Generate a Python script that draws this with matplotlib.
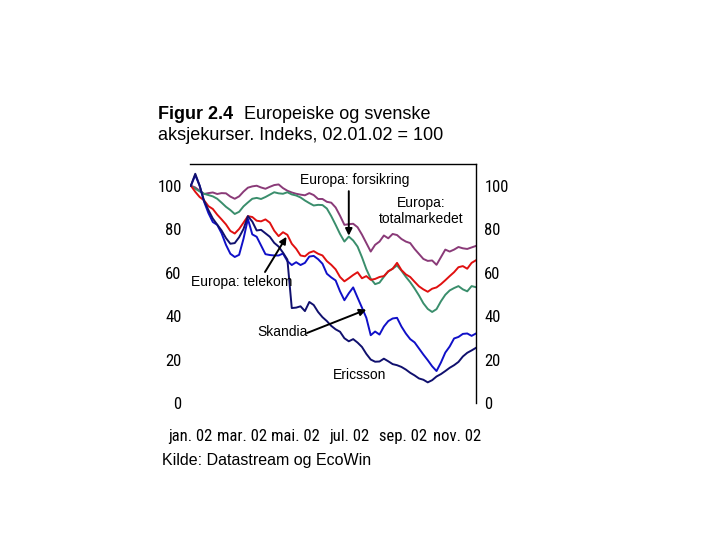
import matplotlib
matplotlib.use("Agg")
import matplotlib.pyplot as plt
from matplotlib import font_manager
import pandas as pd

# ---------------- data (readings every 5 days, index 02.01.02 = 100) ----------------
dates = pd.date_range("2002-01-02", periods=66, freq="5D")

totalmarkedet = [100, 99.2, 97.7, 96.2, 96.6, 96.9, 96.2, 96.6, 96.5, 95, 94, 95.1, 97.3, 99.1,
                 99.7, 100, 99.2, 98.6, 99.5, 100.3, 100.6, 98.9, 97.7, 96.9, 96.3, 95.9, 95.6,
                 96.6, 95.7, 93.9, 93.9, 92.6, 92.2, 90, 86.2, 82, 82.3, 82.5, 80.9, 77.5, 73.6,
                 69.7, 72.8, 74.3, 77.1, 75.8, 77.8, 77.3, 75.5, 74.3, 73.6, 70.9, 68.6, 66.3,
                 65.4, 65.6, 63.6, 67.1, 70.6, 69.7, 70.6, 71.8, 71.2, 70.9, 71.6, 72.3]
forsikring = [100, 98.6, 97.4, 96.3, 95.7, 95.1, 94, 92.2, 90.3, 88.8, 87, 88, 90.5, 92.3,
              94, 94.4, 93.9, 94.8, 95.9, 97, 96.5, 96.3, 97, 96, 95.5, 94.6, 93.2, 92, 90.9,
              91.2, 91.1, 89.5, 86, 82, 77.8, 74.3, 76.6, 74.8, 72, 67.1, 61.6, 57.2, 54.7,
              55.4, 58.1, 60.6, 61.8, 63.3, 60.9, 58.1, 55.6, 52.7, 49.5, 45.9, 43.3, 41.9,
              43.2, 46.8, 49.8, 51.8, 52.9, 53.8, 52.3, 51.4, 53.8, 53.3]
telekom = [100, 97.2, 94.8, 93.3, 90.6, 89.3, 86.7, 84.5, 82.2, 79.2, 78, 80.1, 83, 86,
           85.6, 83.9, 83.6, 84.5, 83, 79.3, 76.8, 78.6, 77.4, 73.3, 71, 67.9, 67.5, 69.2,
           69.9, 68.7, 67.9, 65.3, 63.6, 61.5, 58, 56, 57.4, 58.9, 60.2, 57.4, 58.4, 56.7,
           57.1, 58, 58.4, 60.6, 61.8, 64.5, 61.2, 59.2, 58, 55.8, 53.7, 52.3, 51.2, 52.6,
           53.2, 54.7, 56.5, 58.4, 60.2, 62.5, 63, 61.8, 64.5, 65.7]
skandia = [100, 104.9, 100, 92.7, 87.4, 83.3, 82, 78.1, 72.8, 68.7, 67.2, 68.2, 75.6, 84.7,
           77.6, 76.5, 72.5, 68.5, 68.1, 67.9, 67.9, 68.8, 65.3, 63.5, 64.8, 63.5, 64.5,
           67.4, 67.7, 66.2, 64.1, 59.5, 57.8, 56.4, 51.4, 47.3, 50.5, 53.2, 48.5, 43.9,
           39.2, 31.2, 32.9, 31.5, 35.2, 37.7, 38.9, 39.2, 35.2, 32, 29.4, 27.9, 25.1, 22.3,
           19.7, 16.9, 14.7, 18.6, 23.2, 26, 29.7, 30.4, 31.8, 32, 30.9, 32]
ericsson = [100, 105.5, 100, 93.1, 88.8, 84.9, 82.1, 79.4, 75.9, 73.3, 73.6, 76.3, 80.1, 86,
            83.5, 79.4, 79.7, 78.1, 76.5, 73.7, 72, 69.2, 66, 43.7, 43.9, 44.5, 42.3, 46.5,
            45.1, 41.9, 39.5, 37.7, 35.5, 33.9, 32.8, 29.8, 28.4, 29.4, 27.8, 25.8, 22.6, 20,
            19, 19.1, 20.4, 19.2, 17.9, 17.4, 16.6, 15.4, 13.9, 12.7, 11.3, 10.7, 9.5, 10.5,
            12.2, 13.3, 14.7, 16.2, 17.4, 18.9, 21.4, 23.1, 24.2, 25.4]

month_ticks = ["2002-01-01", "2002-03-01", "2002-05-01", "2002-07-01", "2002-09-01", "2002-11-01"]
month_labels = ["jan. 02", "mar. 02", "mai. 02", "jul. 02", "sep. 02", "nov. 02"]
minor_month_ticks = ["2002-03-01", "2002-07-01"]
y_ticks = [0, 20, 40, 60, 80, 100]
y_minor_ticks = [20, 60]

# ---------------- fonts ----------------
def find(fam, stretch="normal"):
    try:
        return font_manager.findfont(font_manager.FontProperties(family=fam, stretch=stretch),
                                     fallback_to_default=False)
    except Exception:
        return None

main_font = "Liberation Sans" if find("Liberation Sans") else "DejaVu Sans"
narrow_font, narrow_stretch, tick_fs = main_font, "normal", 10.5
for fam in ["Liberation Sans Narrow", "Arial Narrow", "Roboto Condensed", "Open Sans Condensed"]:
    if find(fam):
        narrow_font, tick_fs = fam, 12
        break
else:
    p = find("DejaVu Sans", "condensed")
    if p and "Condensed" in p:
        narrow_font, narrow_stretch, tick_fs = "DejaVu Sans", "condensed", 11.5

plt.rcParams["font.family"] = [main_font, "DejaVu Sans"]

W, H = 720, 540
fig = plt.figure(figsize=(7.2, 5.4), dpi=100)
fig.patch.set_facecolor("white")

ax = fig.add_axes([190 / W, (H - 403) / H, 286 / W, 239 / H])
ax.set_facecolor("white")

lw = 1.4
ax.plot(dates, totalmarkedet, color="#8a3a78", lw=lw)
ax.plot(dates, forsikring, color="#3a8e6c", lw=lw)
ax.plot(dates, telekom, color="#e01010", lw=lw)
ax.plot(dates, skandia, color="#1010c8", lw=lw)
ax.plot(dates, ericsson, color="#10106e", lw=lw)

ax.set_xlim(pd.Timestamp("2002-01-01"), pd.Timestamp("2002-11-23"))
ax.set_ylim(0, 110)

for s in ["left", "bottom"]:
    ax.spines[s].set_visible(False)
for s in ["top", "right"]:
    ax.spines[s].set_color("black")
    ax.spines[s].set_linewidth(1.0)

ax.set_yticks(y_ticks)
ax.set_yticklabels([str(v) for v in y_ticks])
ax.set_yticks(y_minor_ticks, minor=True)
ax.tick_params(axis="y", which="major", length=0, left=False, right=False,
               labelleft=True, labelright=True, pad=6, labelsize=tick_fs)
ax.tick_params(axis="y", which="minor", direction="in", length=4, width=0.9,
               left=True, right=True, color="black")

ax.set_xticks(pd.to_datetime(month_ticks))
ax.set_xticklabels(month_labels)
ax.set_xticks(pd.to_datetime(minor_month_ticks), minor=True)
ax.tick_params(axis="x", which="major", length=0, pad=19, labelsize=tick_fs)
ax.tick_params(axis="x", which="minor", direction="in", length=5, width=0.9,
               bottom=True, color="black")
for lab in ax.get_xticklabels() + ax.get_yticklabels():
    lab.set_fontfamily(narrow_font)
    lab.set_fontstretch(narrow_stretch)

# ---------------- annotations ----------------
ann_fs = 10
arrow = dict(arrowstyle="-|>", color="black", lw=1.4, mutation_scale=10,
             shrinkA=0, shrinkB=0)

ax.annotate("", xy=(pd.Timestamp("2002-07-01"), 77), xycoords="data",
            xytext=(pd.Timestamp("2002-07-01"), 97.5), textcoords="data", arrowprops=arrow)
ax.annotate("", xy=(pd.Timestamp("2002-04-21"), 76.5), xycoords="data",
            xytext=(265, H - 272), textcoords="figure pixels", arrowprops=arrow)
ax.annotate("", xy=(pd.Timestamp("2002-07-21"), 43), xycoords="data",
            xytext=(307, H - 333), textcoords="figure pixels", arrowprops=arrow)

fig.text(355 / W, (H - 180) / H, "Europa: forsikring", ha="center", va="center", fontsize=ann_fs)
fig.text(421 / W, (H - 211) / H, "Europa:\ntotalmarkedet", ha="center", va="center",
         fontsize=ann_fs, linespacing=1.1)
fig.text(191 / W, (H - 282) / H, "Europa: telekom", ha="left", va="center", fontsize=ann_fs)
fig.text(283 / W, (H - 332) / H, "Skandia", ha="center", va="center", fontsize=ann_fs)
fig.text(360 / W, (H - 375) / H, "Ericsson", ha="center", va="center", fontsize=ann_fs)

# ---------------- title and source ----------------
fig.text(158 / W, (H - 115) / H, "Figur 2.4", ha="left", va="center",
         fontsize=13, fontweight="bold")
fig.text(244 / W, (H - 115) / H, "Europeiske og svenske", ha="left", va="center", fontsize=13)
fig.text(158 / W, (H - 135) / H, "aksjekurser. Indeks, 02.01.02 = 100", ha="left",
         va="center", fontsize=13)
fig.text(162 / W, (H - 460) / H, "Kilde: Datastream og EcoWin", ha="left", va="center",
         fontsize=11.5)

fig.savefig("out.png", dpi=100, facecolor="white")
